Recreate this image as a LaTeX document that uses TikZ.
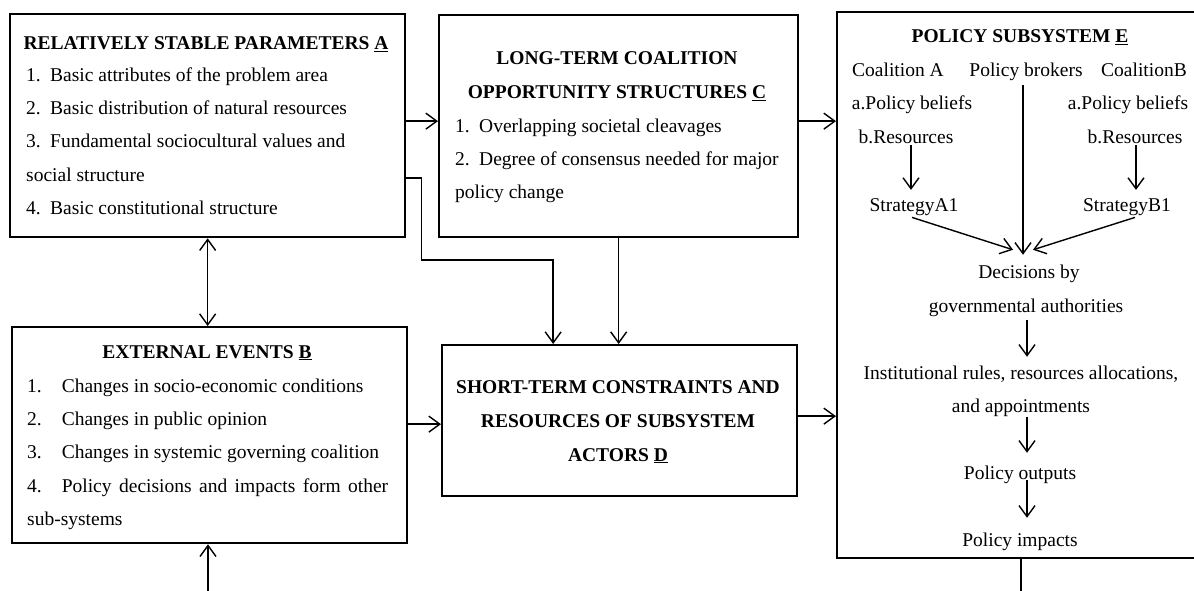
\documentclass[tikz,border=0pt]{standalone}
\usepackage{fontspec}
\setmainfont{Liberation Serif}
\usetikzlibrary{arrows.meta}
\newcommand\myfs{\fontsize{19.5}{23}\selectfont}
\begin{document}
\begin{tikzpicture}[x=1pt,y=-1pt,
  box/.style={draw, line width=2.3pt, inner sep=0pt, anchor=north west},
  lt/.style={anchor=base west, inner sep=0pt, font=\myfs},
  ct/.style={anchor=base, inner sep=0pt, font=\myfs},
  bt/.style={anchor=base, inner sep=0pt, font=\myfs\bfseries},
  conn/.style={line width=1.4pt, -{Straight Barb[length=11pt,width=16pt]}},
  conn2/.style={line width=1.4pt, {Straight Barb[length=11pt,width=16pt]}-{Straight Barb[length=11pt,width=16pt]}},
  plain/.style={line width=1.4pt}]
\useasboundingbox (0,0) rectangle (1194,591);

% boxes
\node[box, minimum width=395pt, minimum height=223pt] (A) at (9,13) {};
\node[box, minimum width=359pt, minimum height=222pt] (C) at (438,14) {};
\node[box, minimum width=395pt, minimum height=216pt] (B) at (11,326) {};
\node[box, minimum width=355pt, minimum height=151pt] (D) at (441,344) {};
\node[box, minimum width=374pt, minimum height=546pt] (E) at (836,11) {};

% box A text
\node[bt] (At) at (206,50) {RELATIVELY STABLE PARAMETERS \underline{A}};
\node[lt] (A1) at (26,82) {1.\hspace{9.4pt}Basic attributes of the problem area};
\node[lt] (A2) at (26,115) {2.\hspace{9.4pt}Basic distribution of natural resources};
\node[lt] (A3) at (26,148) {3.\hspace{9.4pt}Fundamental sociocultural values and};
\node[lt] (A3b) at (26,181) {social structure};
\node[lt] (A4) at (26,214) {4.\hspace{9.4pt}Basic constitutional structure};

% box C text
\node[bt] (Ct1) at (617,65) {LONG-TERM COALITION};
\node[bt] (Ct2) at (617,99) {OPPORTUNITY STRUCTURES \underline{C}};
\node[lt] (C1) at (455,132) {1.\hspace{9.4pt}Overlapping societal cleavages};
\node[lt] (C2) at (455,165) {2.\hspace{9.4pt}Degree of consensus needed for major};
\node[lt] (C2b) at (455,198) {policy change};

% box B text
\node[bt] (Bt) at (207,358) {EXTERNAL EVENTS \underline{B}};
\node[lt] (B1) at (27,392) {1.\hspace{20pt}Changes in socio-economic conditions};
\node[lt] (B2) at (27,425) {2.\hspace{20pt}Changes in public opinion};
\node[lt] (B3) at (27,458) {3.\hspace{20pt}Changes in systemic governing coalition};
\node[lt] (B4) at (27,492) {\makebox[361pt][s]{4.\hspace{20pt}Policy decisions and impacts form other}};
\node[lt] (B4b) at (27,525) {sub-systems};

% box D text
\node[bt] (D1) at (618,393) {SHORT-TERM CONSTRAINTS AND};
\node[bt] (D2) at (618,427) {RESOURCES OF SUBSYSTEM};
\node[bt] (D3) at (618,461) {ACTORS \underline{D}};

% box E text
\node[bt] (Et) at (1020,43) {POLICY SUBSYSTEM \underline{E}};
\node[ct] (cA) at (898,77) {Coalition A};
\node[ct] (pb) at (1026,77) {Policy brokers};
\node[ct] (cB) at (1144,77) {CoalitionB};
\node[ct] (bA) at (912,110) {a.Policy beliefs};
\node[ct] (bB) at (1128,110) {a.Policy beliefs};
\node[ct] (rA) at (906,144) {b.Resources};
\node[ct] (rB) at (1135,144) {b.Resources};
\node[ct] (sA) at (914,211) {StrategyA1};
\node[ct] (sB) at (1127,211) {StrategyB1};
\node[ct] (d1) at (1029,278) {Decisions by};
\node[ct] (d2) at (1026,312) {governmental authorities};
\node[ct] (i1) at (1021,379) {Institutional rules, resources allocations,};
\node[ct] (i2) at (1021,412) {and appointments};
\node[ct] (po) at (1020,479) {Policy outputs};
\node[ct] (pi) at (1020,546) {Policy impacts};

% arrows inside E
\draw[conn] ([xshift=5pt,yshift=-1pt]rA.south) -- ([xshift=-3pt,yshift=8pt]sA.north);
\draw[conn] ([xshift=1pt,yshift=-1pt]rB.south) -- ([xshift=9pt,yshift=8pt]sB.north);
\draw[conn] ([xshift=-2pt,yshift=-2pt]sA.south) -- ([xshift=-16pt,yshift=14.5pt]d1.north);
\draw[conn] ([xshift=-3pt,yshift=-4pt]pb.south) -- ([xshift=-6pt,yshift=9.5pt]d1.north);
\draw[conn] ([xshift=8pt,yshift=-2pt]sB.south) -- ([xshift=4pt,yshift=14.5pt]d1.north);
\draw[conn] ([xshift=1pt,yshift=-4pt]d2.south) -- ([xshift=6pt,yshift=8.5pt]i1.north);
\draw[conn] ([xshift=6pt,yshift=-1pt]i2.south) -- ([xshift=7pt,yshift=12.5pt]po.north);
\draw[conn] ([xshift=7pt,yshift=3pt]po.south) -- ([xshift=7pt,yshift=14.5pt]pi.north);

% arrows between boxes
\draw[conn] ([yshift=4.5pt]A.east) -- ([yshift=4.5pt]A.east -| C.west);
\draw[conn] ([yshift=5pt]C.east) -- ([yshift=5pt]C.east -| E.west);
\draw[conn2] (A.south) -- (A.south |- B.north);
\coordinate (bin) at (208,591);
\draw[conn] (bin) -- (bin |- B.south);
\draw[conn] ([yshift=11pt]B.east) -- ([yshift=11pt]B.east -| D.west);
\draw[conn] ([yshift=4.5pt]D.east) -- ([yshift=4.5pt]D.east -| E.west);
\draw[conn] ([yshift=-52.5pt]A.east) -- ++(15,0) -- ++(0,82) -| ([xshift=-66.5pt]D.north);
\draw[conn] (C.south) -- (C.south |- D.north);
\coordinate (eout) at (1021,591);
\draw[plain] (eout |- E.south) -- (eout);
\end{tikzpicture}
\end{document}
